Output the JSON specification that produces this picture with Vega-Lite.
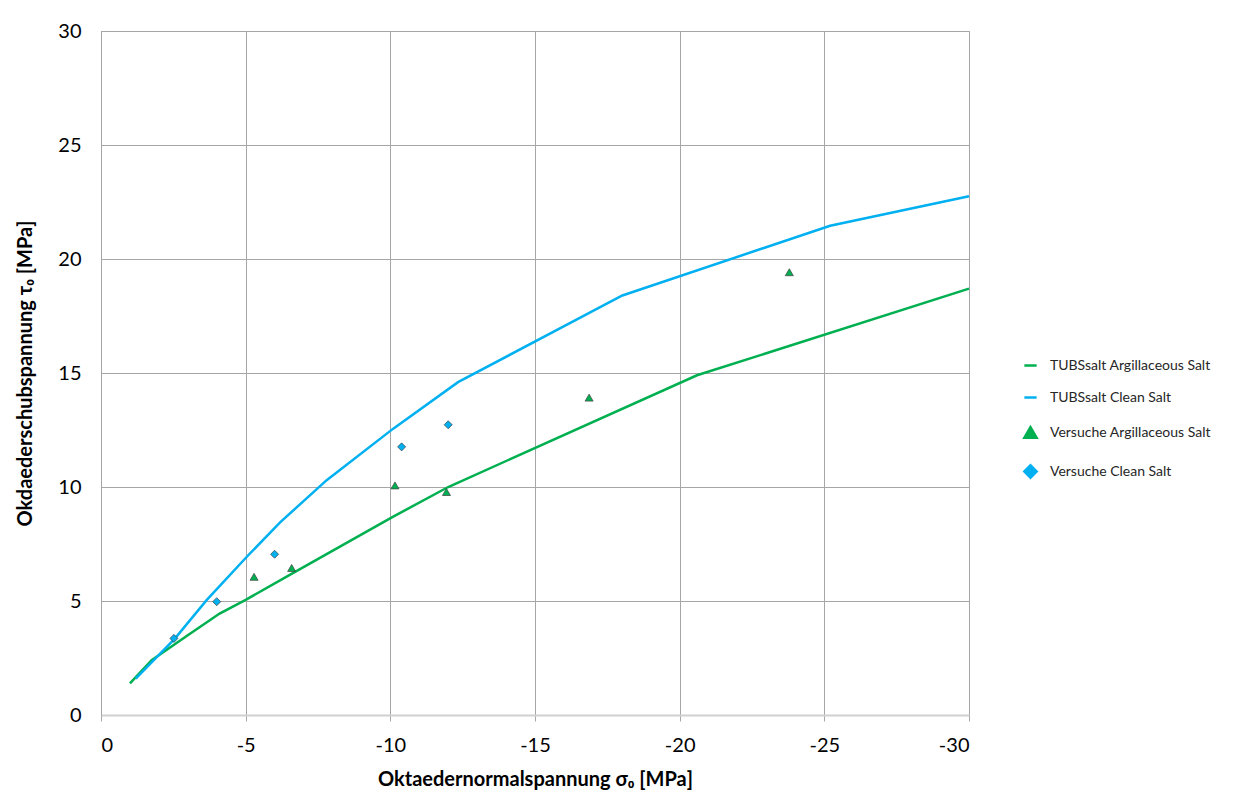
{
  "$schema": "https://vega.github.io/schema/vega-lite/v6.json",
  "width": 868,
  "height": 684,
  "padding": {"left": 101, "top": 31, "right": 284, "bottom": 94},
  "autosize": {"type": "none"},
  "background": "white",
  "config": {
    "font": "Lato",
    "view": {"stroke": "#a6a6a6", "strokeWidth": 1},
    "axis": {"gridColor": "#a6a6a6", "gridWidth": 1, "gridOpacity": 1}
  },
  "datasets": {
    "lines": [
      {"series": "TUBSsalt Argillaceous Salt", "s": -1.0, "t": 1.39},
      {"series": "TUBSsalt Argillaceous Salt", "s": -1.75, "t": 2.4},
      {"series": "TUBSsalt Argillaceous Salt", "s": -3.0, "t": 3.5},
      {"series": "TUBSsalt Argillaceous Salt", "s": -4.1, "t": 4.45},
      {"series": "TUBSsalt Argillaceous Salt", "s": -5.0, "t": 5.05},
      {"series": "TUBSsalt Argillaceous Salt", "s": -6.6, "t": 6.2},
      {"series": "TUBSsalt Argillaceous Salt", "s": -10.1, "t": 8.7},
      {"series": "TUBSsalt Argillaceous Salt", "s": -12.0, "t": 10.0},
      {"series": "TUBSsalt Argillaceous Salt", "s": -20.6, "t": 14.9},
      {"series": "TUBSsalt Argillaceous Salt", "s": -30.0, "t": 18.7},
      {"series": "TUBSsalt Clean Salt", "s": -1.2, "t": 1.6},
      {"series": "TUBSsalt Clean Salt", "s": -2.56, "t": 3.36},
      {"series": "TUBSsalt Clean Salt", "s": -3.65, "t": 5.04},
      {"series": "TUBSsalt Clean Salt", "s": -5.04, "t": 6.94},
      {"series": "TUBSsalt Clean Salt", "s": -6.19, "t": 8.45},
      {"series": "TUBSsalt Clean Salt", "s": -7.8, "t": 10.3},
      {"series": "TUBSsalt Clean Salt", "s": -10.1, "t": 12.56},
      {"series": "TUBSsalt Clean Salt", "s": -12.34, "t": 14.6},
      {"series": "TUBSsalt Clean Salt", "s": -18.02, "t": 18.4},
      {"series": "TUBSsalt Clean Salt", "s": -25.2, "t": 21.46},
      {"series": "TUBSsalt Clean Salt", "s": -30.0, "t": 22.75}
    ],
    "points": [
      {"series": "Versuche Argillaceous Salt", "s": -5.29, "t": 6.06},
      {"series": "Versuche Argillaceous Salt", "s": -6.59, "t": 6.45},
      {"series": "Versuche Argillaceous Salt", "s": -10.16, "t": 10.07},
      {"series": "Versuche Argillaceous Salt", "s": -11.94, "t": 9.78},
      {"series": "Versuche Argillaceous Salt", "s": -16.87, "t": 13.92},
      {"series": "Versuche Argillaceous Salt", "s": -23.79, "t": 19.42},
      {"series": "Versuche Clean Salt", "s": -2.52, "t": 3.36},
      {"series": "Versuche Clean Salt", "s": -4.0, "t": 4.97},
      {"series": "Versuche Clean Salt", "s": -6.0, "t": 7.05},
      {"series": "Versuche Clean Salt", "s": -10.39, "t": 11.76},
      {"series": "Versuche Clean Salt", "s": -12.0, "t": 12.73}
    ]
  },
  "layer": [
    {
      "data": {"name": "lines"},
      "mark": {"type": "line", "strokeWidth": 2.5},
      "encoding": {
        "x": {
          "field": "s", "type": "quantitative",
          "scale": {"domain": [-30, 0], "reverse": true, "nice": false},
          "axis": {
            "title": "Oktaedernormalspannung σ₀  [MPa]",
            "titleFont": "Lato", "titleFontSize": 20, "titleFontWeight": "bold", "titleColor": "black",
            "titlePadding": 14,
            "values": [0, -5, -10, -15, -20, -25, -30],
            "labelExpr": "replace(datum.label, '−', '-')",
            "labelFont": "Lato", "labelFontSize": 20, "labelColor": "black", "labelPadding": 14,
            "domainColor": "#d0d0d0", "domainWidth": 2,
            "tickColor": "#a6a6a6", "tickSize": 6
          }
        },
        "y": {
          "field": "t", "type": "quantitative",
          "scale": {"domain": [0, 30], "nice": false},
          "axis": {
            "title": "Okdaederschubspannung τ₀ [MPa]",
            "titleFont": "Lato", "titleFontSize": 20, "titleFontWeight": "bold", "titleColor": "black",
            "titlePadding": 22,
            "values": [0, 5, 10, 15, 20, 25, 30],
            "labelFont": "Lato", "labelFontSize": 20, "labelColor": "black", "labelPadding": 20,
            "domainColor": "#a6a6a6", "domainWidth": 1,
            "ticks": false
          }
        },
        "color": {
          "field": "series", "type": "nominal",
          "scale": {
            "domain": ["TUBSsalt Argillaceous Salt", "TUBSsalt Clean Salt", "Versuche Argillaceous Salt", "Versuche Clean Salt"],
            "range": ["#00b050", "#00b0f0", "#00b050", "#00b0f0"]
          },
          "legend": {
            "orient": "none", "legendX": 922, "legendY": 327,
            "title": null,
            "labelFont": "Lato", "labelFontSize": 14, "labelColor": "#262626",
            "labelLimit": 300,
            "rowPadding": 17, "labelOffset": 12,
            "symbolSize": 150,
            "symbolStrokeWidth": 2.5
          }
        },
        "order": {"field": "s", "sort": "descending"}
      }
    },
    {
      "data": {"name": "points"},
      "mark": {"type": "point", "filled": true, "size": 65, "stroke": "#404040", "strokeWidth": 0.7, "opacity": 1},
      "encoding": {
        "x": {"field": "s", "type": "quantitative"},
        "y": {"field": "t", "type": "quantitative"},
        "color": {"field": "series", "type": "nominal"},
        "shape": {
          "field": "series", "type": "nominal",
          "scale": {
            "domain": ["TUBSsalt Argillaceous Salt", "TUBSsalt Clean Salt", "Versuche Argillaceous Salt", "Versuche Clean Salt"],
            "range": ["stroke", "stroke", "triangle-up", "diamond"]
          }
        }
      }
    }
  ]
}
